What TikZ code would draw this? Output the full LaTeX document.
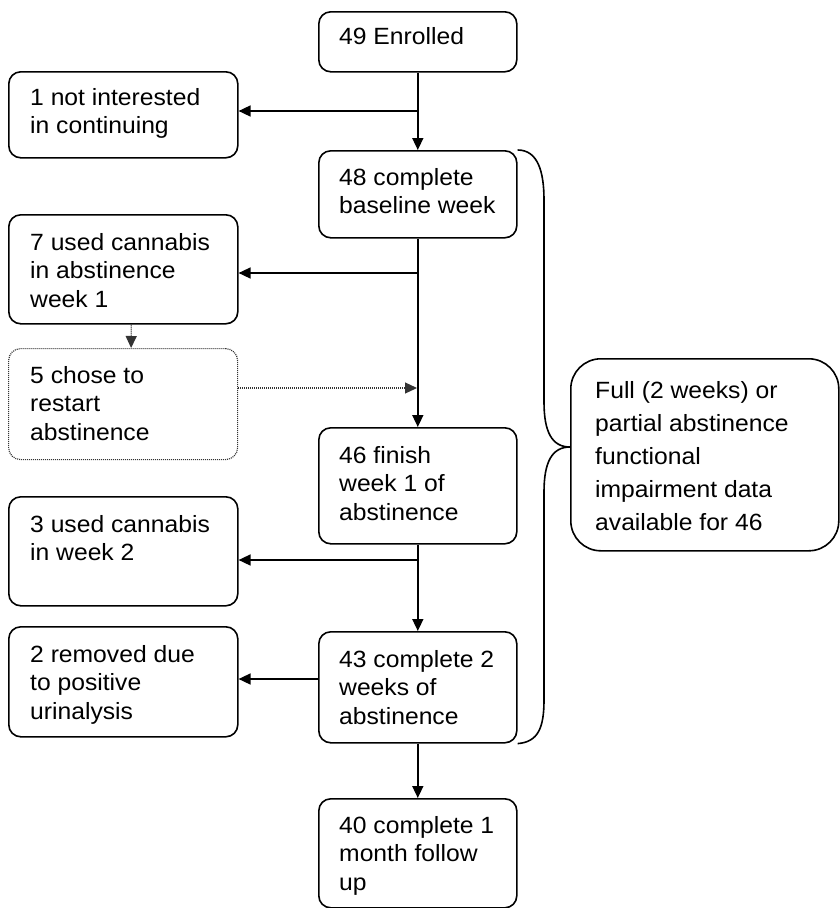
\documentclass[tikz,border=0pt]{standalone}
\usepackage{fontspec}
\setmainfont[FakeStretch=1.05]{Liberation Sans}
\usetikzlibrary{arrows.meta,calc}
\begin{document}
\begin{tikzpicture}[x=1pt,y=-1pt,
  box/.style={draw, line width=1.6pt, rounded corners=12pt, anchor=north west, inner sep=0pt},
  dotbox/.style={draw=black!80, line width=1.2pt, dash pattern=on 1pt off 1pt, rounded corners=12pt, anchor=north west, inner sep=0pt},
  bigbox/.style={draw, line width=1.6pt, rounded corners=30pt, anchor=north west, inner sep=0pt},
  txt/.style={anchor=north west, inner sep=0pt, align=left, font=\fontsize{23.5}{28.5}\selectfont},
  bigtxt/.style={anchor=north west, inner sep=0pt, align=left, font=\fontsize{23.5}{33}\selectfont},
  conn/.style={line width=1.6pt, -{Triangle[length=12pt,width=11pt]}},
  dotconn/.style={draw=black!80, line width=1.2pt, dash pattern=on 1pt off 1pt, -{Triangle[length=12pt,width=11pt]}},
  plain/.style={line width=1.6pt}
]
\useasboundingbox[fill=white] (0,0) rectangle (839,908);

% centre column
\node[box, minimum width=198pt, minimum height=60pt]  (enr) at (318,11) {};
\node[box, minimum width=198pt, minimum height=87pt]  (base) at (318,150) {};
\node[box, minimum width=198pt, minimum height=116pt] (wk1) at (318,427) {};
\node[box, minimum width=198pt, minimum height=111pt] (wk2) at (318,631) {};
\node[box, minimum width=198pt, minimum height=109pt] (fup) at (318,798) {};

% left column
\node[box, minimum width=229pt, minimum height=86pt]  (notint) at (8,71) {};
\node[box, minimum width=229pt, minimum height=109pt] (used7) at (8,214) {};
\node[dotbox, minimum width=229pt, minimum height=111pt] (restart) at (8,348) {};
\node[box, minimum width=229pt, minimum height=109pt] (used3) at (8,496) {};
\node[box, minimum width=229pt, minimum height=110pt] (removed) at (8,626) {};

% right box
\node[bigbox, minimum width=268pt, minimum height=192pt] (full) at (570,358) {};

% texts
\node[txt] (tenr) at ($(enr.north west)+(21,16)$) {49 Enrolled};
\node[txt] (tbase) at ($(base.north west)+(21,18)$) {48 complete\\baseline week};
\node[txt] (twk1) at ($(wk1.north west)+(21,19)$) {46 finish\\week 1 of\\abstinence};
\node[txt] (twk2) at ($(wk2.north west)+(21,19)$) {43 complete 2\\weeks of\\abstinence};
\node[txt] (tfup) at ($(fup.north west)+(21,18)$) {40 complete 1\\month follow\\up};
\node[txt] (tnotint) at ($(notint.north west)+(22,17)$) {1 not interested\\in continuing};
\node[txt] (tused7) at ($(used7.north west)+(22,19)$) {7 used cannabis\\in abstinence\\week 1};
\node[txt] (trestart) at ($(restart.north west)+(22,18)$) {5 chose to\\restart\\abstinence};
\node[txt] (tused3) at ($(used3.north west)+(22,19)$) {3 used cannabis\\in week 2};
\node[txt] (tremoved) at ($(removed.north west)+(22,19)$) {2 removed due\\to positive\\urinalysis};
\node[bigtxt] (tfull) at ($(full.north west)+(25,23)$) {Full (2 weeks) or\\partial abstinence\\functional\\impairment data\\available for 46};

% branch points
\coordinate (b1) at (417,111);
\coordinate (b2) at (417,273);
\coordinate (b3) at (417,388);
\coordinate (b4) at (417,560);
\coordinate (b5) at (318,679);

% connectors
\draw[conn] (enr.south) -- (base.north);
\draw[conn] (b1) -- (b1 -| notint.east);
\draw[conn] (base.south) -- (wk1.north);
\draw[conn] (b2) -- (b2 -| used7.east);
\draw[dotconn] ($(used7.south)+(8,0)$) -- ($(restart.north)+(8,0)$);
\draw[dotconn] (b3 -| restart.east) -- (b3);
\draw[conn] (wk1.south) -- (wk2.north);
\draw[conn] (b4) -- (b4 -| used3.east);
\draw[conn] (b5) -- (b5 -| removed.east);
\draw[conn] (wk2.south) -- (fup.north);

% brace
\draw[plain] (base.north east) .. controls (538,150) and (544,172) .. (544,200)
  -- (544,402) .. controls (544,432) and (552,447) .. (570,447)
  .. controls (552,447) and (544,462) .. (544,492)
  -- (544,700) .. controls (544,728) and (538,742) .. (wk2.south east);
\end{tikzpicture}
\end{document}
